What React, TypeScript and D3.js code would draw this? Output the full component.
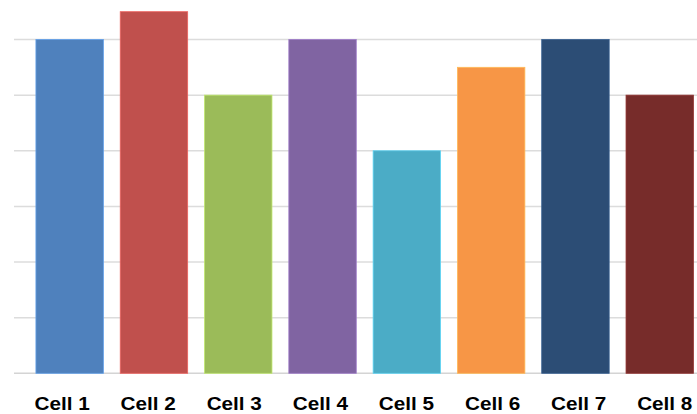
import React from "react";
import * as d3 from "d3";

const categories = ["Cell 1", "Cell 2", "Cell 3", "Cell 4", "Cell 5", "Cell 6", "Cell 7", "Cell 8"];
const values = [6, 6.5, 5, 6, 4, 5.5, 6, 5];
const colors = ["#4F81BD", "#C0504D", "#9BBB59", "#8064A2", "#4BACC6", "#F79646", "#2C4D75", "#772C2A"];
const gridTicks = [0, 1, 2, 3, 4, 5, 6];

const W = 697;
const H = 414;

export default function App() {
  const x = d3.scaleBand<string>().domain(categories).range([27.5, 701.9]).paddingInner(0.2).paddingOuter(0.1);
  const xLabel = d3.scaleBand<string>().domain(categories).range([19, 707.8]);
  const y = d3.scaleLinear().domain([0, 6]).range([373.3, 39.5]);

  return (
    <svg width={W} height={H} style={{ position: "absolute", left: 0, top: 0, background: "#fff" }}>
      {gridTicks.map((t) => (
        <line key={t} x1={14} x2={W} y1={y(t)} y2={y(t)} stroke={t === 0 ? "#d4d4d4" : "#dcdcdc"} strokeWidth={1.5} />
      ))}
      {categories.map((c, i) => (
        <rect
          key={c}
          x={x(c)}
          y={y(values[i])}
          width={x.bandwidth()}
          height={y(0) - y(values[i])}
          fill={colors[i]}
          stroke={d3.color(colors[i])!.brighter(0.6).formatHex()}
          strokeWidth={0.8}
        />
      ))}
      {categories.map((c) => (
        <text
          key={c}
          transform={`translate(${(xLabel(c) ?? 0) + xLabel.bandwidth() / 2},409.5) scale(1.12,1)`}
          textAnchor="middle"
          fontFamily="'Liberation Sans', Arial, sans-serif"
          fontWeight="bold"
          fontSize={18.5}
          fill="#000"
        >
          {c}
        </text>
      ))}
    </svg>
  );
}
